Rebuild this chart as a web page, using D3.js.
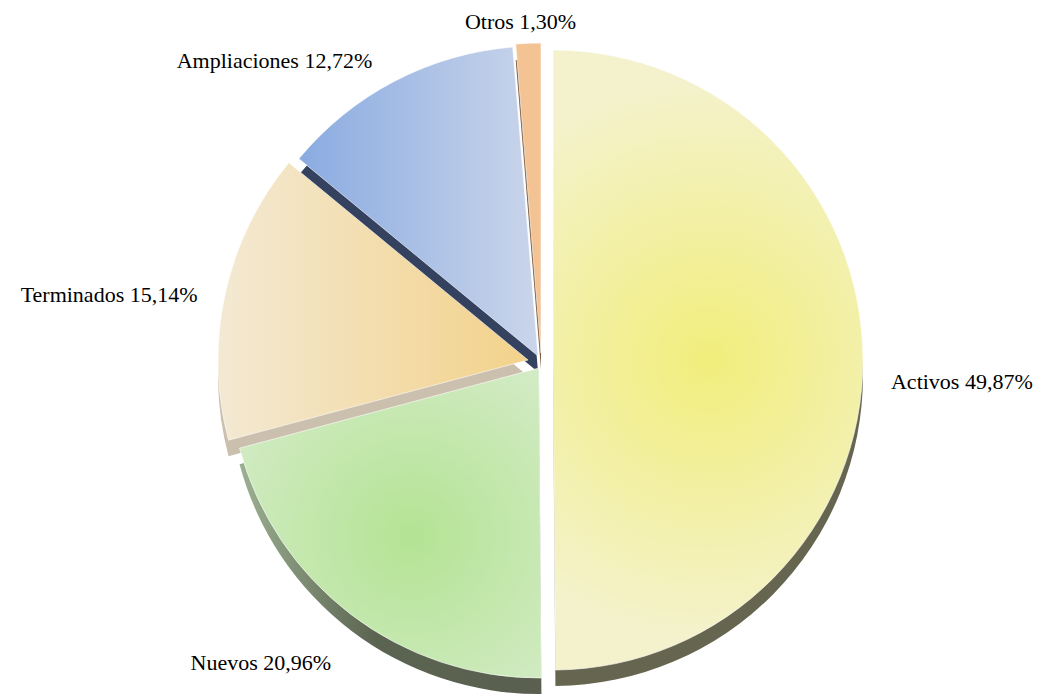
<!DOCTYPE html>
<html lang="es">
<head>
<meta charset="UTF-8">
<title>Distribución de proyectos</title>
<script src="https://cdnjs.cloudflare.com/ajax/libs/d3/7.8.5/d3.min.js"></script>
<style>
    body { margin: 0; background: #ffffff; }
</style>
</head>
<body>
<div id="chart"></div>
<script>
    // data
    const categories = ["Activos", "Nuevos", "Terminados", "Ampliaciones", "Otros"];
    const percents = [49.87, 20.96, 15.14, 12.72, 1.30];
    const percentLabels = ["49,87%", "20,96%", "15,14%", "12,72%", "1,30%"];

    // styles per slice
    const topStyle = {
        Activos:      {type: "radial", stops: ["#f1ee7c", "#f4f2cc"], at: 0.5},
        Nuevos:       {type: "radial", stops: ["#b4e394", "#ddeed6"], at: 0.68},
        Terminados:   {type: "linear", stops: ["#f3e9d3", "#f3d28a"]},
        Ampliaciones: {type: "linear", stops: ["#8aabe1", "#cad5ea"]},
        Otros:        {type: "flat",   stops: ["#f4c394"]}
    };
    const sideColor = {
        Activos: "#66654f", Nuevos: "url(#side-Nuevos)", Terminados: "#cbbfad",
        Ampliaciones: "#34425f", Otros: "#7a5a42"
    };
    const explode = {
        Activos: [15, 0], Nuevos: [1, 8], Terminados: [-10, 0],
        Ampliaciones: [0, -4], Otros: [3, -7]
    };
    const labelNudge = {
        Activos: [8, 30], Nuevos: [-8, 39], Terminados: [-8, 12],
        Ampliaciones: [-13, 5], Otros: [-7, 6]
    };

    const width = 1043, height = 696;
    const cx = 538, cy = 360, r = 310, depth = 16;

    const svg = d3.select("#chart").append("svg")
        .attr("width", width)
        .attr("height", height);

    const defs = svg.append("defs");

    const pie = d3.pie().sort(null).value(d => d.value);
    const arc = d3.arc().innerRadius(0).outerRadius(r);
    const labelArc = d3.arc().innerRadius(r + 20).outerRadius(r + 20);

    const slices = pie(categories.map((c, i) => ({name: c, value: percents[i], label: percentLabels[i]})));

    // gradients for top faces (user space = slice group, origin at slice vertex)
    slices.forEach(d => {
        const name = d.data.name;
        const st = topStyle[name];
        if (st.type === "radial") {
            const mid = (d.startAngle + d.endAngle) / 2;
            const g = defs.append("radialGradient")
                .attr("id", "top-" + name)
                .attr("gradientUnits", "userSpaceOnUse")
                .attr("cx", Math.sin(mid) * r * st.at)
                .attr("cy", -Math.cos(mid) * r * st.at)
                .attr("r", r * 0.9);
            g.append("stop").attr("offset", 0).attr("stop-color", st.stops[0]);
            g.append("stop").attr("offset", 1).attr("stop-color", st.stops[1]);
        } else if (st.type === "linear") {
            const g = defs.append("linearGradient")
                .attr("id", "top-" + name)
                .attr("x1", 0).attr("x2", 1).attr("y1", 0).attr("y2", 0);
            g.append("stop").attr("offset", 0).attr("stop-color", st.stops[0]);
            g.append("stop").attr("offset", 1).attr("stop-color", st.stops[1]);
        }
    });

    const sg = defs.append("linearGradient").attr("id", "side-Nuevos")
        .attr("x1", 0).attr("x2", 1).attr("y1", 0).attr("y2", 0);
    sg.append("stop").attr("offset", 0).attr("stop-color", "#9bb091");
    sg.append("stop").attr("offset", 0.45).attr("stop-color", "#5b6451");
    sg.append("stop").attr("offset", 1).attr("stop-color", "#5a5f4f");

    // draw back to front
    const order = ["Otros", "Ampliaciones", "Terminados", "Nuevos", "Activos"];
    order.forEach(name => {
        const d = slices.find(s => s.data.name === name);
        const [ox, oy] = explode[name];
        const g = svg.append("g").attr("transform", `translate(${cx + ox},${cy + oy})`);

        g.append("path")
            .attr("d", arc(d))
            .attr("transform", `translate(0,${depth})`)
            .attr("fill", sideColor[name]);

        g.append("path")
            .attr("d", arc(d))
            .attr("fill", topStyle[name].type === "flat" ? topStyle[name].stops[0] : `url(#top-${name})`)
            .attr("stroke", "rgba(255,255,255,0.6)")
            .attr("stroke-width", 1);
    });

    // labels
    slices.forEach(d => {
        const name = d.data.name;
        const [ox, oy] = explode[name];
        const [nx, ny] = labelNudge[name];
        const [lx, ly] = labelArc.centroid(d);
        const mid = (d.startAngle + d.endAngle) / 2;
        const anchor = Math.abs(Math.sin(mid)) < 0.1 ? "middle" : (Math.sin(mid) > 0 ? "start" : "end");
        svg.append("text")
            .attr("x", cx + ox + lx + nx)
            .attr("y", cy + oy + ly + ny)
            .attr("text-anchor", anchor)
            .attr("font-family", "'Liberation Serif', 'Times New Roman', 'DejaVu Serif', serif")
            .attr("font-size", 22)
            .attr("fill", "#000")
            .text(`${name} ${d.data.label}`);
    });
</script>
</body>
</html>
